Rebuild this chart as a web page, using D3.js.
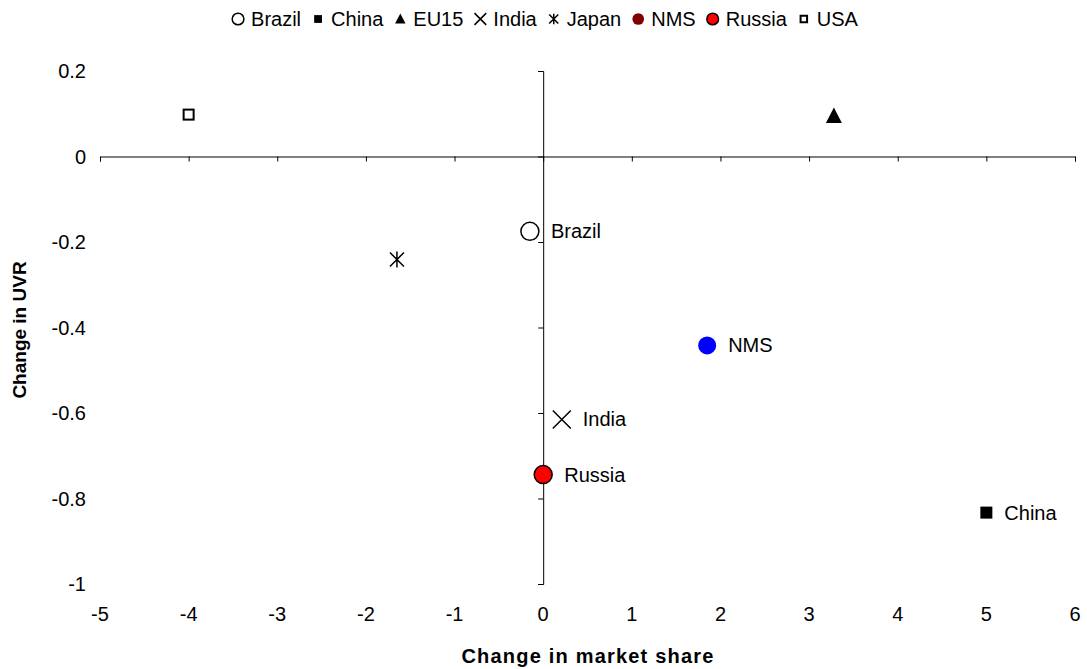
<!DOCTYPE html>
<html><head><meta charset="utf-8">
<script src="https://cdn.jsdelivr.net/npm/d3@7"></script>
<style>body{margin:0;background:#fff;} text{font-family:"Liberation Sans",Arial,sans-serif;}</style>
</head><body>
<svg id="c" width="1087" height="669"></svg>
<script>
const countries = ["Brazil","China","EU15","India","Japan","NMS","Russia","USA"];
const marketShare = [-0.15, 5.0, 3.28, 0.21, -1.65, 1.85, 0.0, -4.0];
const uvrChange = [-0.175, -0.833, 0.095, -0.615, -0.241, -0.442, -0.744, 0.098];
const showLabel = [true, true, false, true, false, true, true, false];
const markerShapes = ["openCircle","filledSquare","triangle","cross","asterisk","blueCircle","redCircle","openSquare"];
const legendShapes = ["openCircle","filledSquare","triangle","cross","asterisk","darkRedCircle","redDot","openSquare"];
const xTicks = [-5,-4,-3,-2,-1,0,1,2,3,4,5,6];
const yTicks = [0.2,0,-0.2,-0.4,-0.6,-0.8,-1];
const yTickLabels = ["0.2","0","-0.2","-0.4","-0.6","-0.8","-1"];

const svg = d3.select("#c");
const x = d3.scaleLinear().domain([-5,6]).range([100,1075]);
const y = d3.scaleLinear().domain([-1,0.2]).range([584,71]);
const FS = 20;

const xAxis = d3.axisBottom(x).tickValues(xTicks).tickSize(5).tickFormat("");
svg.append("g").attr("transform",`translate(0,${y(0)})`).call(xAxis)
  .call(g=>{g.select(".domain").attr("stroke","#000");g.selectAll("line").attr("stroke","#000");});
const yAxis = d3.axisLeft(y).tickValues(yTicks).tickSize(5).tickFormat("");
svg.append("g").attr("transform",`translate(${x(0)},0)`).call(yAxis)
  .call(g=>{g.select(".domain").attr("stroke","#000");g.selectAll("line").attr("stroke","#000");});

svg.append("g").selectAll("text").data(xTicks).join("text")
  .attr("x",d=>x(d)).attr("y",621).attr("text-anchor","middle")
  .attr("font-size",FS).text(d=>d);
svg.append("g").selectAll("text").data(yTicks).join("text")
  .attr("x",86).attr("y",d=>y(d)+7).attr("text-anchor","end")
  .attr("font-size",FS).text((d,i)=>yTickLabels[i]);

svg.append("text").attr("x",588).attr("y",663).attr("text-anchor","middle")
  .attr("font-size",20).attr("font-weight","bold").attr("letter-spacing","1.2").text("Change in market share");
svg.append("text").attr("transform","translate(26,330) rotate(-90)").attr("text-anchor","middle")
  .attr("font-size",19).attr("font-weight","bold").text("Change in UVR");

function drawShape(g, shape, s){
  switch(shape){
    case "openCircle": g.append("circle").attr("r",9*s).attr("fill","#fff").attr("stroke","#000").attr("stroke-width",1.5); break;
    case "filledSquare": g.append("rect").attr("x",-6*s).attr("y",-6*s).attr("width",12*s).attr("height",12*s).attr("fill","#000"); break;
    case "triangle": g.append("path").attr("d",`M0,${-8.5*s}L${8*s},${7*s}L${-8*s},${7*s}Z`).attr("fill","#000"); break;
    case "cross": g.append("path").attr("d",`M${-9*s},${-9*s}L${9*s},${9*s}M${9*s},${-9*s}L${-9*s},${9*s}`).attr("stroke","#000").attr("stroke-width",1.5); break;
    case "asterisk": g.append("path").attr("d",`M${-7*s},${-7*s}L${7*s},${7*s}M${7*s},${-7*s}L${-7*s},${7*s}M0,${-8*s}L0,${8*s}`).attr("stroke","#000").attr("stroke-width",1.5); break;
    case "blueCircle": g.append("circle").attr("r",9*s).attr("fill","#0000ff"); break;
    case "darkRedCircle": g.append("circle").attr("r",9*s).attr("fill","#800000"); break;
    case "redCircle": g.append("circle").attr("r",9*s).attr("fill","#ff0000").attr("stroke","#000").attr("stroke-width",1.5); break;
    case "redDot": g.append("circle").attr("r",9*s).attr("fill","#ff0000").attr("stroke","#000").attr("stroke-width",1.5); break;
    case "openSquare": g.append("rect").attr("x",-5*s).attr("y",-5*s).attr("width",10*s).attr("height",10*s).attr("fill","#fff").attr("stroke","#000").attr("stroke-width",2); break;
  }
}
const halfSize = {openCircle:9,filledSquare:6,triangle:8,cross:9,asterisk:7,blueCircle:9,redCircle:9,openSquare:5};

const pts = svg.append("g");
countries.forEach((c,i)=>{
  const g = pts.append("g").attr("transform",`translate(${x(marketShare[i])},${y(uvrChange[i])})`);
  drawShape(g, markerShapes[i], 1);
  if(showLabel[i]) g.append("text").attr("x",halfSize[markerShapes[i]]+12).attr("y",7).attr("font-size",FS).text(c);
});

// legend
const leg = svg.append("g");
let lx = 0;
countries.forEach((c,i)=>{
  const g = leg.append("g").attr("transform",`translate(${lx+6},19)`);
  drawShape(g, legendShapes[i], 0.65);
  const t = leg.append("text").attr("x",lx+19).attr("y",26).attr("font-size",FS).text(c);
  lx += 19 + t.node().getComputedTextLength() + 11;
});
const lw = lx - 11;
leg.attr("transform",`translate(${545 - lw/2},0)`);
</script>
</body></html>
